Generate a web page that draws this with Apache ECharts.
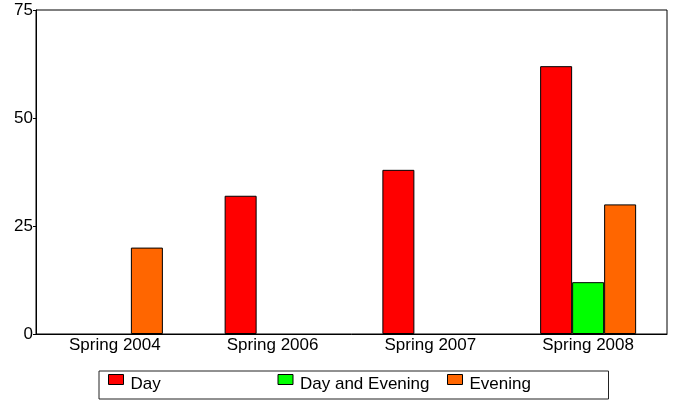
<!DOCTYPE html>
<html>
<head>
<meta charset="utf-8">
<script src="https://cdn.jsdelivr.net/npm/echarts@6/dist/echarts.min.js"></script>
<style>
    html, body { margin: 0; padding: 0; background: #fff; }
    #main { width: 675px; height: 400px; }
</style>
</head>
<body>
<div id="main"></div>
<script>
// terms along the x axis; null = no bar drawn for that term
var terms = ['Spring 2004', 'Spring 2006', 'Spring 2007', 'Spring 2008'];
var seriesNames = ['Day', 'Day and Evening', 'Evening'];
var dayValues = [null, 32, 38, 62];
var dayEveningValues = [null, null, null, 12];
var eveningValues = [20, null, null, 30];
var yTicks = [0, 25, 50, 75];
var colors = ['#ff0000', '#00ff00', '#ff6600'];

function initChart(){
    var myChart = echarts.init(document.getElementById('main'));
    var font = 'Liberation Sans';
    var allValues = [dayValues, dayEveningValues, eveningValues];

    var series = [];
    for (var i = 0; i < seriesNames.length; i++) {
        series.push({
            name: seriesNames[i],
            type: 'bar',
            data: allValues[i],
            barWidth: 32,
            barGap: '0%',
            itemStyle: {
                color: colors[i],
                borderColor: '#000',
                borderWidth: 1
            }
        });
    }

    var option = {
        animation: false,
        textStyle: { fontFamily: font },
        grid: {
            left: 36,
            right: 8,
            top: 10,
            bottom: 66,
            show: true,
            borderColor: '#000',
            borderWidth: 1
        },
        legend: {
            data: seriesNames,
            left: 99,
            top: 371,
            orient: 'horizontal',
            padding: [3, 2, 4, 9],
            itemGap: 10,
            itemWidth: 15,
            itemHeight: 20,
            // swatch sits in the upper half of the item, like the original
            icon: 'path://M0,0H15V10H0Z M0,20',
            borderColor: '#222',
            borderWidth: 1,
            itemStyle: { borderColor: '#000', borderWidth: 1 },
            textStyle: {
                fontFamily: font,
                fontSize: 17,
                lineHeight: 17,
                color: '#000',
                width: 137,
                padding: [0, 0, 0, 2]
            }
        },
        xAxis: {
            type: 'category',
            data: terms,
            axisLine: { show: true, lineStyle: { color: '#000', width: 1 } },
            axisTick: { show: false },
            axisLabel: {
                fontFamily: font,
                fontSize: 17,
                color: '#000',
                margin: 3
            }
        },
        yAxis: {
            type: 'value',
            min: yTicks[0],
            max: yTicks[yTicks.length - 1],
            interval: yTicks[1] - yTicks[0],
            axisLine: { show: true, lineStyle: { color: '#000', width: 1 } },
            axisTick: { show: true, length: 3, lineStyle: { color: '#000' } },
            splitLine: { show: false },
            axisLabel: {
                fontFamily: font,
                fontSize: 17,
                color: '#000',
                margin: 3
            }
        },
        series: series
    };
    myChart.setOption(option);
}

initChart();
</script>
</body>
</html>
